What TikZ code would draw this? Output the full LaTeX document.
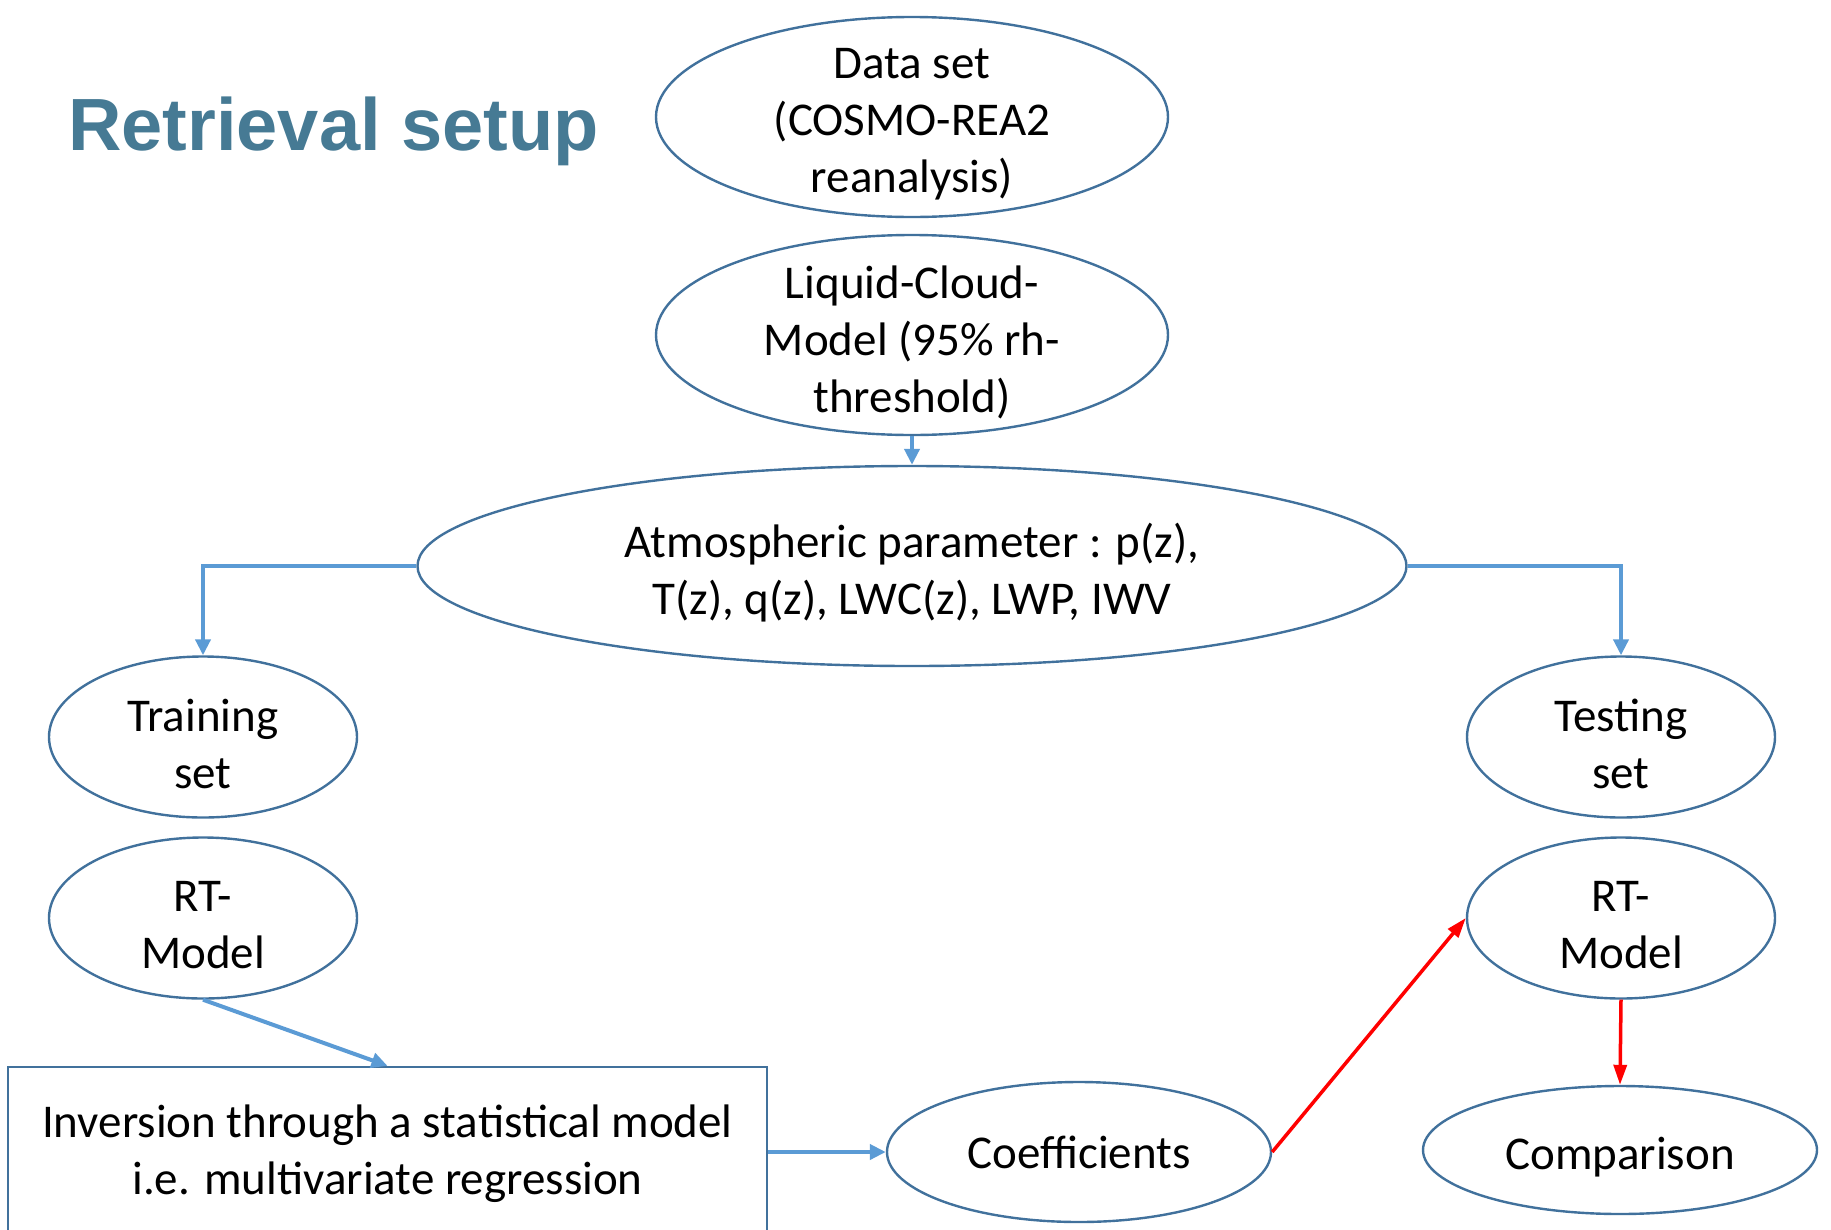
\documentclass[tikz,border=0pt]{standalone}
\usepackage{fontspec}
\setmainfont{Carlito}
\newfontfamily\headfont{Liberation Sans}
\usepackage{tikz}
\usetikzlibrary{shapes.geometric, arrows.meta, positioning}
\definecolor{ovalblue}{RGB}{65,113,156}
\definecolor{flowblue}{RGB}{91,155,213}
\definecolor{titleblue}{RGB}{70,122,148}

\begin{document}
\begin{tikzpicture}[x=1pt, y=-1pt,
  oval/.style={ellipse, draw=ovalblue, line width=2.4pt, inner sep=0pt},
  txt/.style={align=center, font=\fontsize{47}{57}\selectfont},
  ovaltxt/.style={txt, yshift=-7pt},
  flow/.style={draw=flowblue, line width=4pt, -{Triangle[length=16pt,width=15pt]}},
  link/.style={draw=red, line width=3.5pt, -{Triangle[length=20pt,width=13pt]}}]
\useasboundingbox (0,0) rectangle (1831,1229);
% Title
\node[anchor=base west, inner sep=0pt, text=titleblue, font=\headfont\bfseries\fontsize{74}{88}\selectfont] (title) at (68,150) {Retrieval setup};
% Ovals
\node[oval, minimum width=512pt, minimum height=200pt, label={[ovaltxt]center:{Data set\\(COSMO-REA2\\reanalysis)}}] (data) at (912,117) {};
\node[oval, minimum width=512pt, minimum height=200pt, label={[ovaltxt]center:{Liquid-Cloud-\\Model (95\% rh-\\threshold)}}] (lcm) at (912,335) {};
\node[oval, minimum width=989pt, minimum height=200pt, label={[ovaltxt]center:{Atmospheric parameter : p(z),\\T(z), q(z), LWC(z), LWP, IWV}}] (atm) at (912,566) {};
\node[oval, minimum width=308pt, minimum height=161pt, label={[ovaltxt]center:{Training\\set}}] (train) at (203,737) {};
\node[oval, minimum width=308pt, minimum height=161pt, label={[ovaltxt]center:{RT-\\Model}}] (rtl) at (203,918) {};
\node[oval, minimum width=308pt, minimum height=161pt, label={[ovaltxt]center:{Testing\\set}}] (test) at (1621,737) {};
\node[oval, minimum width=308pt, minimum height=161pt, label={[ovaltxt]center:{RT-\\Model}}] (rtr) at (1621,918) {};
\node[oval, minimum width=384pt, minimum height=140pt, label={[txt]center:{Coefficients}}] (coef) at (1079,1152) {};
\node[oval, minimum width=394pt, minimum height=128pt, label={[ovaltxt]center:{Comparison}}] (comp) at (1620,1150) {};
% Box
\node[rectangle, draw=ovalblue, line width=2.4pt, minimum width=759pt, minimum height=174pt, txt] (inv) at (387.5,1154) {Inversion through a statistical model\\i.e. multivariate regression};
% Arrows
\draw[flow] (lcm.south) -- (atm.north);
\draw[flow] (atm.west) -| (train.north);
\draw[flow] (atm.east) -| (test.north);
\draw[flow] (rtl.south) -- (inv.north);
\draw[flow] (inv.east |- coef.west) -- (coef.west);
\draw[link] (coef.east) -- (rtr.west);
\draw[link] (rtr.south) -- (comp.north);
\end{tikzpicture}
\end{document}
